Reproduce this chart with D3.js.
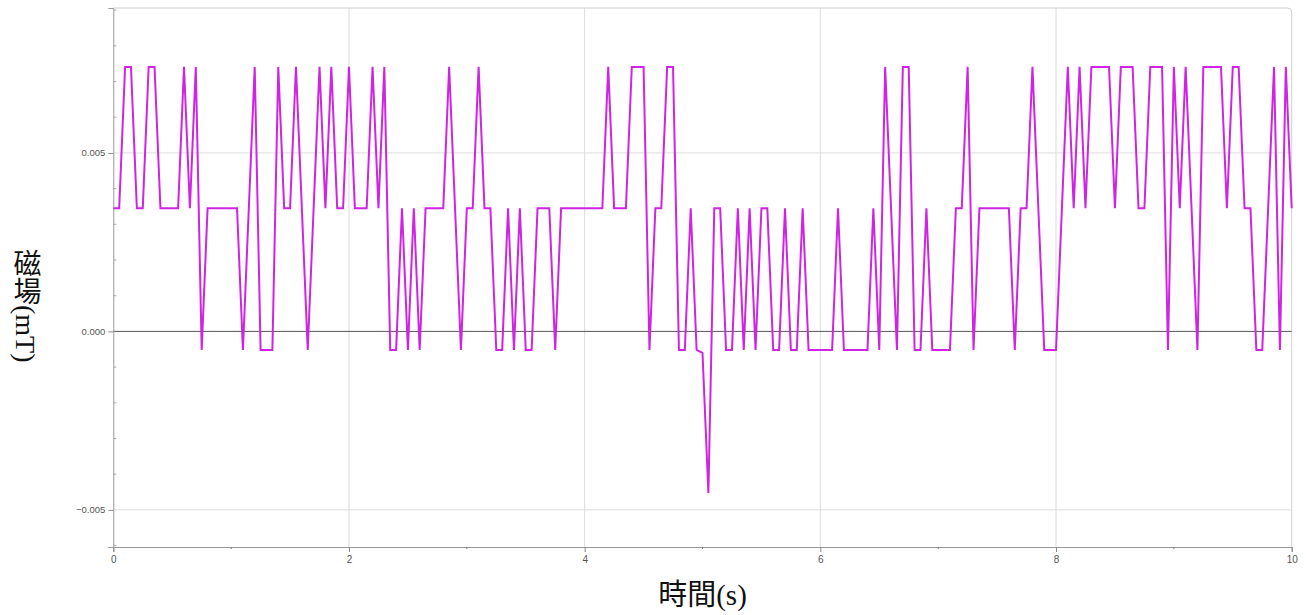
<!DOCTYPE html>
<html>
<head>
<meta charset="utf-8">
<script src="https://cdn.jsdelivr.net/npm/d3@7"></script>
<style>
  body { margin: 0; background: #fff; }
  svg { display: block; }
</style>
</head>
<body>
<svg id="chart" width="1306" height="615"></svg>
<script>
// tick values
const xTicks = [0, 2, 4, 6, 8, 10];
const xMinorTicks = [1, 3, 5, 7, 9];
const yTicks = [-0.005, 0, 0.005];
const yMinorTicks = [-0.006, -0.004, -0.003, -0.002, -0.001, 0.001, 0.002, 0.003, 0.004, 0.006, 0.007, 0.008, 0.009];

// sensor samples, one every 0.05 s (mT)
const sampleStep = 0.05;
const field = [
  0.00345, 0.00345, 0.00741, 0.00741, 0.00345, 0.00345, 0.00741, 0.00741, 0.00345, 0.00345,
  0.00345, 0.00345, 0.00741, 0.00345, 0.00741, -0.00052, 0.00345, 0.00345, 0.00345, 0.00345,
  0.00345, 0.00345, -0.00052, 0.00345, 0.00741, -0.00052, -0.00052, -0.00052, 0.00741, 0.00345,
  0.00345, 0.00741, 0.00345, -0.00052, 0.00345, 0.00741, 0.00345, 0.00741, 0.00345, 0.00345,
  0.00741, 0.00345, 0.00345, 0.00345, 0.00741, 0.00345, 0.00741, -0.00052, -0.00052, 0.00345,
  -0.00052, 0.00345, -0.00052, 0.00345, 0.00345, 0.00345, 0.00345, 0.00741, 0.00345, -0.00052,
  0.00345, 0.00345, 0.00741, 0.00345, 0.00345, -0.00052, -0.00052, 0.00345, -0.00052, 0.00345,
  -0.00052, -0.00052, 0.00345, 0.00345, 0.00345, -0.00052, 0.00345, 0.00345, 0.00345, 0.00345,
  0.00345, 0.00345, 0.00345, 0.00345, 0.00741, 0.00345, 0.00345, 0.00345, 0.00741, 0.00741,
  0.00741, -0.00052, 0.00345, 0.00345, 0.00741, 0.00741, -0.00052, -0.00052, 0.00345, -0.00052,
  -0.00060, -0.00453, 0.00345, 0.00345, -0.00052, -0.00052, 0.00345, -0.00052, 0.00345, -0.00052,
  0.00345, 0.00345, -0.00052, -0.00052, 0.00345, -0.00052, -0.00052, 0.00345, -0.00052, -0.00052,
  -0.00052, -0.00052, -0.00052, 0.00345, -0.00052, -0.00052, -0.00052, -0.00052, -0.00052, 0.00345,
  -0.00052, 0.00741, 0.00345, -0.00052, 0.00741, 0.00741, -0.00052, -0.00052, 0.00345, -0.00052,
  -0.00052, -0.00052, -0.00052, 0.00345, 0.00345, 0.00741, -0.00052, 0.00345, 0.00345, 0.00345,
  0.00345, 0.00345, 0.00345, -0.00052, 0.00345, 0.00345, 0.00741, 0.00345, -0.00052, -0.00052,
  -0.00052, 0.00345, 0.00741, 0.00345, 0.00741, 0.00345, 0.00741, 0.00741, 0.00741, 0.00741,
  0.00345, 0.00741, 0.00741, 0.00741, 0.00345, 0.00345, 0.00741, 0.00741, 0.00741, -0.00052,
  0.00741, 0.00345, 0.00741, 0.00345, -0.00052, 0.00741, 0.00741, 0.00741, 0.00741, 0.00345,
  0.00741, 0.00741, 0.00345, 0.00345, -0.00052, -0.00052, 0.00345, 0.00741, -0.00052, 0.00741,
  0.00345
];

const plot = { left: 113.3, right: 1291.7, top: 8, bottom: 547 };

const x = d3.scaleLinear()
  .domain([0, 10])
  .range([plot.left, plot.right]);

const y = d3.scaleLinear()
  .domain([-0.00604, 0.00906])
  .range([plot.bottom, plot.top]);

const svg = d3.select("#chart");

// grid
const grid = svg.append("g").attr("stroke", "#dcdcdc").attr("stroke-width", 1);
grid.selectAll("line.vx")
  .data(xTicks.filter(d => d > 0 && d < 10))
  .join("line")
  .attr("x1", d => x(d)).attr("x2", d => x(d))
  .attr("y1", plot.top).attr("y2", plot.bottom);
grid.selectAll("line.hy")
  .data(yTicks.filter(d => d !== 0))
  .join("line")
  .attr("x1", plot.left).attr("x2", plot.right)
  .attr("y1", d => y(d)).attr("y2", d => y(d));

// frame (top / right light)
svg.append("path")
  .attr("d", `M${plot.left},${plot.top}H${plot.right - 4}Q${plot.right},${plot.top} ${plot.right},${plot.top + 4}V${plot.bottom}`)
  .attr("fill", "none")
  .attr("stroke", "#d0d0d0");

// zero line
svg.append("line")
  .attr("x1", plot.left).attr("x2", plot.right)
  .attr("y1", y(0)).attr("y2", y(0))
  .attr("stroke", "#555")
  .attr("stroke-width", 1);

// axes
const xAxis = d3.axisBottom(x).tickValues(xTicks).tickSize(5).tickPadding(4).tickFormat(d3.format("d"));
const gx = svg.append("g").attr("transform", `translate(0,${plot.bottom})`).call(xAxis);
gx.selectAll(".tick line").attr("stroke", "#888");
gx.select(".domain").attr("stroke", "#999");
gx.selectAll("text").attr("fill", "#555").style("font", "10px 'Liberation Sans', Arial, sans-serif");
gx.selectAll("line.minor")
  .data(xMinorTicks)
  .join("line")
  .attr("class", "minor")
  .attr("x1", d => x(d)).attr("x2", d => x(d))
  .attr("y1", 0).attr("y2", 2)
  .attr("stroke", "#777");

const yAxis = d3.axisLeft(y).tickValues(yTicks).tickSize(5).tickPadding(3).tickFormat(d3.format(".3f"));
const gy = svg.append("g").attr("transform", `translate(${plot.left},0)`).call(yAxis);
gy.selectAll(".tick line").attr("stroke", "#888");
gy.select(".domain").attr("stroke", "#999");
gy.selectAll("text").attr("fill", "#555").style("font", "9.5px 'Liberation Sans', Arial, sans-serif");
gy.selectAll("line.minor")
  .data(yMinorTicks)
  .join("line")
  .attr("class", "minor")
  .attr("x1", 0).attr("x2", 3)
  .attr("y1", d => y(d)).attr("y2", d => y(d))
  .attr("stroke", "#aaa");

// signal line
const line = d3.line()
  .x((d, i) => x(i * sampleStep))
  .y(d => y(d));

svg.append("path")
  .datum(field)
  .attr("fill", "none")
  .attr("stroke", "#d024e4")
  .attr("stroke-width", 2)
  .attr("stroke-linejoin", "miter")
  .attr("d", line);

// axis titles
const titleFont = "29px 'Liberation Serif', 'Noto Sans CJK TC', serif";
svg.append("text")
  .attr("x", (plot.left + plot.right) / 2)
  .attr("y", 605)
  .attr("text-anchor", "middle")
  .style("font", titleFont)
  .attr("fill", "#111")
  .text("時間(s)");

// vertical title: CJK upright, latin turned
svg.append("text")
  .attr("x", 25)
  .attr("y", 249)
  .style("writing-mode", "vertical-rl")
  .style("font", "28px 'Liberation Serif', 'Noto Sans CJK TC', serif")
  .attr("fill", "#111")
  .text("磁場(mT)");
</script>
</body>
</html>
